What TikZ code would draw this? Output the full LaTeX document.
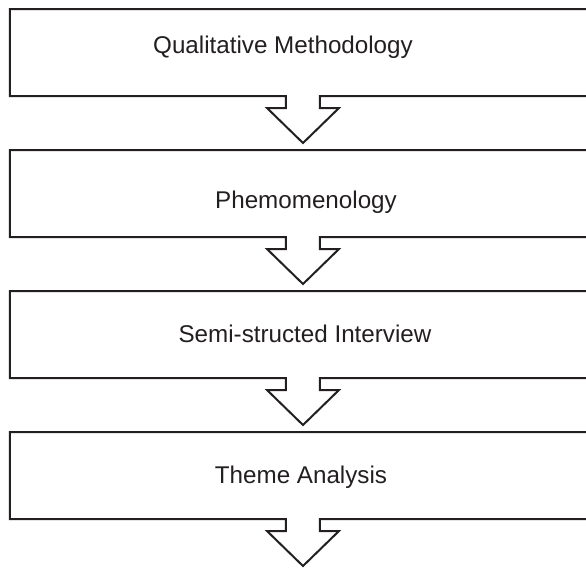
\documentclass[tikz,border=0pt]{standalone}
\usepackage{fontspec}
\setmainfont{Liberation Sans}
\usepackage{xcolor}
\usepackage{tikz}
\usetikzlibrary{positioning,calc}
\definecolor{ink}{RGB}{35,31,32}

% box with its downward arrow, drawn as one outline
\newcommand{\stageoutline}[1]{%
  \draw[outline] (#1.south west) -- (#1.north west) -- (#1.north east) -- (#1.south east)
    -- ($(#1.south)+(17,0)$) -- ++(0,12) -- ++(19,0) -- ($(#1.south)+(0,47)$)
    -- ($(#1.south)+(-36,12)$) -- ++(19,0) -- ++(0,-12) -- cycle;}

\begin{document}
\begin{tikzpicture}[
    x=0.5pt, y=-0.5pt,
    node distance=27pt,
    stage/.style={minimum width=293pt, minimum height=43.5pt, inner sep=0pt, outer sep=0pt},
    txt/.style={anchor=base, font=\fontsize{12.1}{14}\selectfont, text=ink},
    outline/.style={draw=ink, line width=1pt, line join=miter}
]
\useasboundingbox (0,0) rectangle (586,568);

\node[stage, anchor=north west] (qual) at (10,9) {};
\node[stage, below=of qual] (phen) {};
\node[stage, below=of phen] (interview) {};
\node[stage, below=of interview] (theme) {};

\stageoutline{qual}
\stageoutline{phen}
\stageoutline{interview}
\stageoutline{theme}

\node[txt] (qualtxt) at ($(qual.north)+(-20,44)$) {Qualitative Methodology};
\node[txt] (phentxt) at ($(phen.north)+(3,58)$) {Phemomenology};
\node[txt] (interviewtxt) at ($(interview.north)+(2,51)$) {Semi-structed Interview};
\node[txt] (themetxt) at ($(theme.north)+(-2,51)$) {Theme Analysis};
\end{tikzpicture}
\end{document}
